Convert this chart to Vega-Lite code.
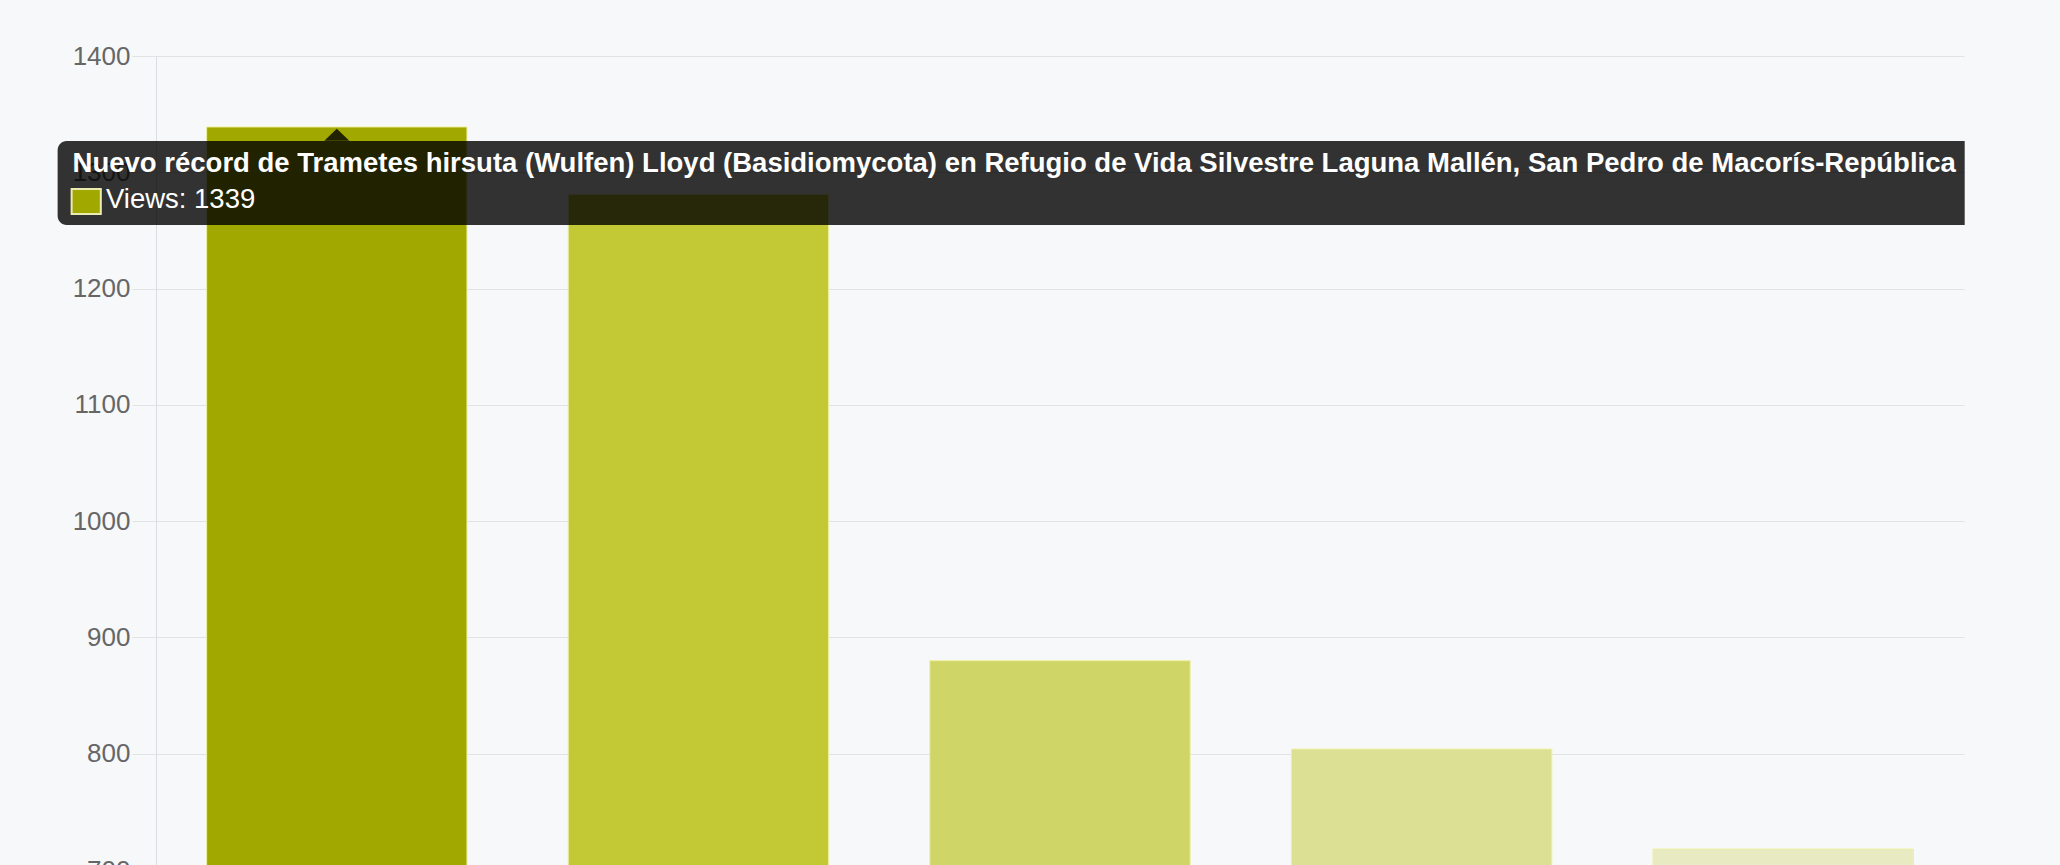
{
  "$schema": "https://vega.github.io/schema/vega-lite/v6.json",
  "width": 1808,
  "height": 814,
  "autosize": {"type": "none"},
  "padding": {"left": 156, "top": 56, "right": 96, "bottom": 0},
  "background": "#f7f8fa",
  "config": {"view": {"stroke": null}, "font": "Liberation Sans, Arial, sans-serif"},
  "datasets": {
    "bars": [
      {"id": 1, "views": 1339},
      {"id": 2, "views": 1281},
      {"id": 3, "views": 880},
      {"id": 4, "views": 804},
      {"id": 5, "views": 718}
    ],
    "tip": [
      {"id": 1, "views": 1339, "title": "Nuevo récord de Trametes hirsuta (Wulfen) Lloyd (Basidiomycota) en Refugio de Vida Silvestre Laguna Mallén, San Pedro de Macorís-República Dominicana", "label": "Views: 1339"}
    ]
  },
  "layer": [
    {
      "data": {"name": "bars"},
      "mark": {"type": "bar", "stroke": "#eef0a0", "strokeWidth": 1},
      "encoding": {
        "x": {"field": "id", "type": "ordinal", "scale": {"paddingInner": 0.28, "paddingOuter": 0.14}, "axis": null},
        "y": {
          "field": "views", "type": "quantitative",
          "scale": {"domain": [700, 1400], "zero": false, "nice": false},
          "axis": {
            "values": [700, 800, 900, 1000, 1100, 1200, 1300, 1400],
            "format": "d",
            "title": null, "grid": true, "gridColor": "#e1e2e4", "gridWidth": 1,
            "domainColor": "#dcdde0", "tickColor": "#e1e2e4", "tickSize": 24,
            "labelPadding": 2, "labelFontSize": 26, "labelColor": "#666666",
            "labelFont": "Liberation Sans, Arial, sans-serif"
          }
        },
        "color": {
          "field": "id", "type": "ordinal",
          "scale": {"domain": [1, 2, 3, 4, 5], "range": ["#a1a800", "#c3c934", "#cfd566", "#dce094", "#e8ebc2"]},
          "legend": null
        }
      }
    },
    {
      "data": {"name": "tip"},
      "mark": {"type": "rect", "color": "#000000", "opacity": 0.8, "xOffset": -149, "x2Offset": 181.5, "yOffset": 14, "y2Offset": 98, "cornerRadiusTopLeft": 9, "cornerRadiusBottomLeft": 9},
      "encoding": {
        "x": {"field": "id", "type": "ordinal", "bandPosition": 0},
        "x2": {"datum": 5},
        "y": {"field": "views", "type": "quantitative"},
        "y2": {"field": "views"}
      }
    },
    {
      "data": {"name": "tip"},
      "mark": {"type": "point", "filled": true, "color": "#000000", "opacity": 0.8, "shape": "M-1,1.1L0,0.15L1,1.1Z", "size": 625, "strokeWidth": 0},
      "encoding": {
        "x": {"field": "id", "type": "ordinal", "bandPosition": 0.5},
        "y": {"field": "views", "type": "quantitative"}
      }
    },
    {
      "data": {"name": "tip"},
      "mark": {"type": "rect", "color": "#a1a800", "stroke": "#ecebb0", "strokeWidth": 2, "xOffset": -135, "x2Offset": -236, "yOffset": 62, "y2Offset": 87},
      "encoding": {
        "x": {"field": "id", "type": "ordinal", "bandPosition": 0},
        "x2": {"field": "id"},
        "y": {"field": "views", "type": "quantitative"},
        "y2": {"field": "views"}
      }
    },
    {
      "data": {"name": "tip"},
      "mark": {"type": "text", "align": "left", "baseline": "alphabetic", "dx": -134, "dy": 45, "fontSize": 27.5, "fontWeight": "bold", "color": "#ffffff", "limit": 1895, "ellipsis": "\u200b"},
      "encoding": {
        "x": {"field": "id", "type": "ordinal", "bandPosition": 0},
        "y": {"field": "views", "type": "quantitative"},
        "text": {"field": "title"}
      }
    },
    {
      "data": {"name": "tip"},
      "mark": {"type": "text", "align": "left", "baseline": "alphabetic", "dx": -100.7, "dy": 81, "fontSize": 27.5, "color": "#ffffff"},
      "encoding": {
        "x": {"field": "id", "type": "ordinal", "bandPosition": 0},
        "y": {"field": "views", "type": "quantitative"},
        "text": {"field": "label"}
      }
    }
  ]
}
